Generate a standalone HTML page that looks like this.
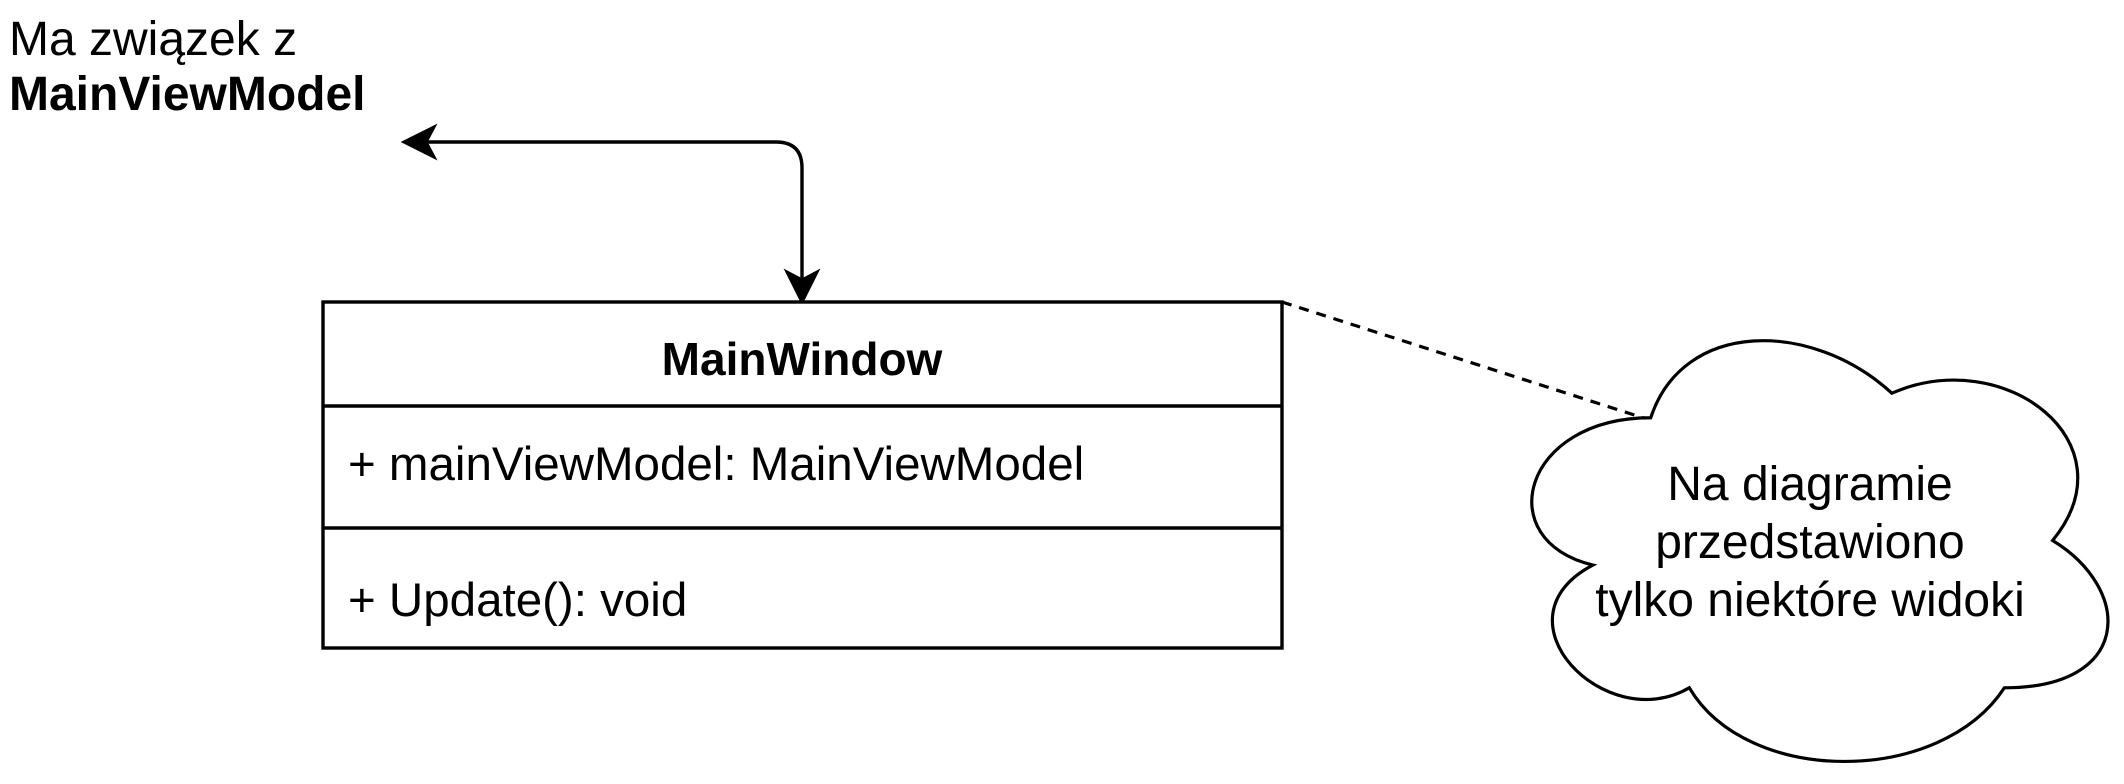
<!DOCTYPE html>
<html><head><meta charset="utf-8"><style>
html,body{margin:0;padding:0;background:#fff;}
svg{display:block;}
text{font-family:"Liberation Sans",Arial,sans-serif;fill:#000;}
</style></head><body>
<svg width="2124" height="784" viewBox="0 0 2124 784" xmlns="http://www.w3.org/2000/svg">
<text x="9" y="55" font-size="48">Ma związek z</text>
<text x="9" y="110" font-size="48" font-weight="bold">MainViewModel</text>
<path d="M420 142 H776 Q802 142 802 168 V286" fill="none" stroke="#000" stroke-width="3.4"/>
<path d="M404 142 L434 127 L426 142 L434 157 Z" fill="#000" stroke="#000" stroke-width="3"/>
<path d="M802 302 L787 272 L802 280 L817 272 Z" fill="#000" stroke="#000" stroke-width="3"/>
<rect x="323" y="302" width="959" height="346" fill="#fff" stroke="#000" stroke-width="3.4"/>
<line x1="323" y1="406" x2="1282" y2="406" stroke="#000" stroke-width="3.4"/>
<line x1="323" y1="528" x2="1282" y2="528" stroke="#000" stroke-width="3.4"/>
<text x="802" y="375" font-size="46" font-weight="bold" text-anchor="middle">MainWindow</text>
<text x="348" y="480" font-size="47.5">+ mainViewModel: MainViewModel</text>
<text x="348" y="616" font-size="47.5">+ Update(): void</text>
<line x1="1282" y1="302" x2="1650" y2="420" stroke="#000" stroke-width="3.2" stroke-dasharray="10,8"/>
<g transform="translate(1490,295) scale(643,491)">
<path d="M0.25,0.25 C0.05,0.25 0,0.5 0.16,0.55 C0,0.66 0.18,0.9 0.31,0.8 C0.4,1 0.7,1 0.8,0.8 C1,0.8 1,0.6 0.875,0.5 C1,0.3 0.8,0.1 0.625,0.2 C0.5,0.05 0.3,0.05 0.25,0.25 Z" fill="#fff" stroke="#000" stroke-width="3.2" vector-effect="non-scaling-stroke"/>
</g>
<text x="1810" y="500" font-size="48" text-anchor="middle">Na diagramie</text>
<text x="1810" y="558" font-size="48" text-anchor="middle">przedstawiono</text>
<text x="1810" y="616" font-size="48" text-anchor="middle">tylko niektóre widoki</text>
</svg>
</body></html>
